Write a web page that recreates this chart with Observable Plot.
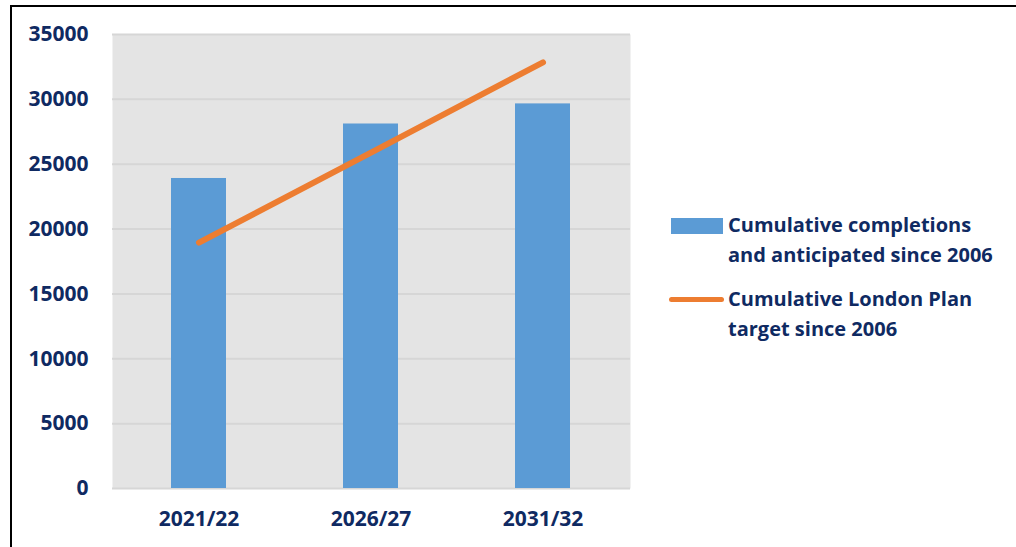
<!DOCTYPE html>
<html>
<head>
<meta charset="utf-8">
<script src="https://cdn.jsdelivr.net/npm/d3@7"></script>
<script src="https://cdn.jsdelivr.net/npm/@observablehq/plot@0.6"></script>
<style>
  html, body { margin: 0; padding: 0; background: #fff; width: 1016px; height: 547px; overflow: hidden; }
  #frame { position: absolute; left: 10px; top: 5px; width: 1100px; height: 600px; border: 2px solid #000; box-sizing: border-box; }
  #chart { position: absolute; left: 0; top: 0; }
  .leg { position: absolute; font-family: "Open Sans", sans-serif; font-weight: 700; font-size: 20px; color: #0f2a62; line-height: 30px; }
</style>
</head>
<body>
<div id="frame"></div>
<div id="chart"></div>
<div id="legend"></div>
<script>
const categories = ["2021/22", "2026/27", "2031/32"];
const completions = [23900, 28100, 29650];
const target = [18950, 25900, 32850];
const yTicks = [0, 5000, 10000, 15000, 20000, 25000, 30000, 35000];
const seriesNames = ["Cumulative completions and anticipated since 2006", "Cumulative London Plan target since 2006"];

const barData = categories.map((c, i) => ({cat: c, value: completions[i]}));
const lineData = categories.map((c, i) => ({cat: c, value: target[i]}));

const textColor = "#0f2a62";

const chart = Plot.plot({
  width: 640,
  height: 547,
  marginLeft: 112,
  marginRight: 10,
  marginTop: 34,
  marginBottom: 59,
  style: {fontFamily: "Open Sans, sans-serif", fontWeight: 700, fontSize: "21px", color: textColor, background: "transparent"},
  x: {domain: categories, paddingInner: 0.68, paddingOuter: 0.34, label: null},
  y: {domain: [0, 35000], label: null},
  marks: [
    Plot.frame({fill: "#e4e4e4", stroke: null}),
    Plot.gridY(yTicks, {stroke: "#d6d6d6", strokeOpacity: 1, strokeWidth: 2}),
    Plot.barY(barData, {x: "cat", y: "value", fill: "#5b9bd5"}),
    Plot.line(lineData, {x: "cat", y: "value", stroke: "#ed7d31", strokeWidth: 6, strokeLinecap: "round"}),
    Plot.axisY(yTicks, {tickSize: 0, tickPadding: 24, tickFormat: d => String(d), fill: textColor, fontSize: 21, fontWeight: 700}),
    Plot.axisX({tickSize: 0, tickPadding: 23, fill: textColor, fontSize: 21, fontWeight: 700})
  ]
});
document.getElementById("chart").appendChild(chart);

// Legend (HTML)
const legend = document.getElementById("legend");
legend.innerHTML = `
  <div style="position:absolute;left:671px;top:218px;width:52px;height:16px;background:#5b9bd5"></div>
  <div class="leg" style="left:728px;top:210px;">Cumulative completions<br>and anticipated since 2006</div>
  <div style="position:absolute;left:669px;top:297px;width:55px;height:5px;border-radius:3px;background:#ed7d31"></div>
  <div class="leg" style="left:728px;top:284px;">Cumulative London Plan<br>target since 2006</div>
`;
legend.querySelectorAll(".leg")[0].title = seriesNames[0];
legend.querySelectorAll(".leg")[1].title = seriesNames[1];
</script>
</body>
</html>
